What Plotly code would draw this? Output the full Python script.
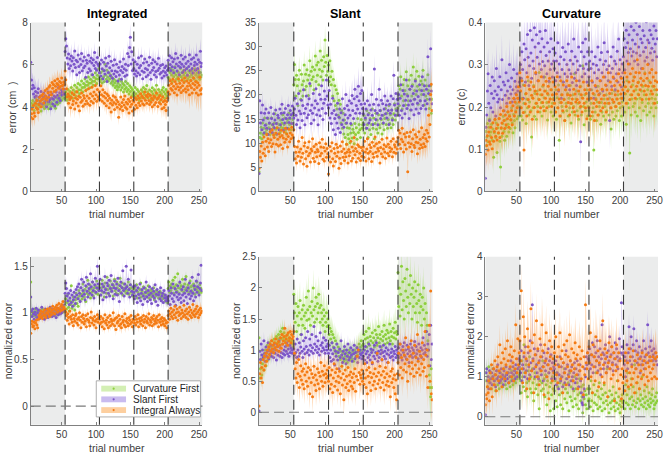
import plotly.graph_objects as go

# ---------------- data (5 blocks of 50 trials, trials 5..254) -------------
block_starts = [5, 55, 105, 155, 205]

# Integrated error, cm x100
int_cf = [
[392,418,403,431,412,384,421,442,405,413,394,432,411,402,423,381,414,436,402,419,393,411,432,404,421,413,392,431,414,401,422,443,412,405,432,411,394,421,441,413,432,452,421,443,461,432,452,473,441,462],
[441,472,453,432,483,461,442,474,451,492,463,442,481,462,503,472,451,493,471,512,482,463,504,481,523,492,471,512,494,534,503,482,521,503,542,513,491,532,514,553,522,503,541,522,562,534,512,551,533,582],
[542,521,563,532,514,572,543,521,603,552,531,574,542,523,561,534,552,513,541,522,503,532,514,492,523,501,482,513,494,532,503,481,522,493,512,471,503,484,521,492,473,512,483,462,501,473,492,452,483,463],
[472,451,492,463,442,483,452,474,431,462,443,482,451,472,493,461,442,484,453,502,471,443,462,481,452,432,473,491,462,441,482,453,472,503,461,442,483,452,471,432,463,481,452,493,472,441,462,483,452,471],
[541,572,532,563,583,552,521,574,543,562,591,553,532,571,542,563,524,551,582,543,562,534,572,551,523,562,541,583,552,532,571,543,562,524,552,573,541,562,533,581,552,523,561,542,573,551,532,563,542,552]]
int_sf = [
[612,528,487,503,462,491,448,473,452,431,468,487,446,418,452,473,435,414,447,466,421,453,432,401,444,472,425,457,436,392,441,463,414,438,452,405,447,471,423,456,493,442,468,431,482,457,471,503,462,484],
[663,724,689,632,604,651,583,627,596,642,618,571,634,603,665,587,622,553,614,646,592,564,627,601,653,572,618,586,637,594,541,622,607,563,645,581,617,572,632,608,553,624,597,658,583,612,574,635,603,596],
[562,604,547,623,581,534,612,573,556,632,594,521,607,563,641,586,548,617,572,536,598,557,624,571,545,603,566,523,587,552,614,573,531,592,564,627,581,546,603,574,552,653,597,638,682,731,604,662,573,624],
[583,556,614,572,547,603,562,634,586,553,597,642,571,534,608,565,627,582,544,613,576,552,598,636,563,531,607,574,624,587,553,615,568,542,604,573,631,584,556,597,563,538,602,571,547,586,563,594,552,574],
[621,584,643,602,573,634,591,615,562,627,586,653,604,571,632,594,553,612,587,645,603,564,628,592,574,637,606,583,551,617,592,648,573,604,626,582,561,634,597,612,574,647,603,582,624,563,612,664,592,607]]
int_ia = [
[352,368,391,344,407,372,356,418,396,431,389,374,412,446,428,401,455,437,462,419,441,478,452,433,487,468,446,495,502,471,458,516,489,507,473,524,498,481,512,533,506,489,521,497,515,538,502,486,519,508],
[571,529,486,447,462,418,451,436,397,445,468,412,429,458,391,443,419,472,437,405,451,382,446,423,467,431,404,455,441,413,478,429,452,417,486,441,408,463,427,494,452,419,471,438,502,458,427,483,449,437],
[472,436,501,458,427,482,451,418,469,443,406,462,431,453,397,441,418,376,432,409,453,421,388,446,414,433,399,425,352,412,391,447,402,421,384,436,409,452,398,423,391,414,437,372,426,401,445,413,381,432],
[424,389,443,408,436,397,452,419,441,407,463,428,451,416,443,409,471,432,455,418,447,462,431,412,456,423,441,401,433,452,411,446,422,467,437,403,445,421,454,414,436,392,447,425,398,431,412,384,426,441],
[472,503,461,524,488,512,479,531,498,468,521,487,509,457,496,534,481,513,492,469,527,501,478,516,538,487,471,523,498,482,514,458,502,526,491,467,512,537,483,504,521,466,492,515,457,503,541,479,462,488]]
int_cf_e = [30,28,22,22,24, 28,30,30,32,30, 30,32,30,28,30, 24,28,28,24,28, 30,30,30,32,32]
int_sf_e = [60,50,42,40,42, 58,52,50,52,50, 50,52,50,54,62, 50,48,50,52,50, 50,52,50,54,60]
int_ia_e = [48,46,44,46,48, 50,46,40,46,48, 42,46,40,42,46, 40,42,40,42,48, 50,52,60,68,80]

# Slant error, deg x10
sl_cf = [
[41,112,121,133,109,142,118,131,152,122,139,128,119,151,132,141,118,129,153,138,121,133,142,161,129,118,141,152,131,139,122,148,133,142,159,131,139,152,128,121,143,149,131,162,139,151,128,142,158,149],
[221,263,232,198,241,219,178,232,251,208,191,243,221,198,229,262,211,243,218,252,231,199,241,271,219,249,232,258,238,211,252,281,228,262,241,268,221,253,291,238,272,249,231,279,259,314,268,241,282,249],
[262,228,271,238,221,249,198,232,188,219,178,211,171,203,158,189,152,181,142,168,131,162,119,148,112,141,98,132,118,109,131,101,121,138,111,129,122,99,141,118,132,108,151,122,139,128,112,149,131,138],
[142,158,121,149,131,168,139,112,162,128,151,118,139,171,131,152,109,141,162,129,148,121,159,138,132,168,149,119,141,158,128,151,172,139,162,131,149,178,141,159,132,169,151,139,161,182,148,171,158,172],
[191,219,178,212,238,198,171,221,188,232,209,179,248,201,219,188,231,212,169,241,198,221,258,191,209,232,201,249,218,181,239,211,188,229,201,222,251,209,179,231,198,219,191,242,209,172,201,219,162,191]]
sl_sf = [
[37,188,142,163,128,179,148,121,162,137,171,131,152,118,163,142,129,174,151,122,139,161,132,148,169,141,119,158,153,128,171,138,162,181,149,127,163,142,172,151,131,159,178,143,152,168,159,141,177,162],
[152,171,193,158,139,182,148,203,167,132,161,189,147,178,211,162,138,172,198,153,181,159,192,224,168,141,179,162,203,148,173,188,213,159,182,138,169,201,157,191,219,172,149,183,208,191,162,231,198,179],
[173,209,152,181,141,162,193,128,168,151,118,159,142,183,131,154,171,122,163,139,192,148,133,172,159,201,142,178,152,169,188,158,141,183,199,168,151,192,212,162,178,197,171,218,188,162,203,181,209,172],
[161,139,182,152,171,131,188,159,142,179,148,169,201,158,139,181,254,168,149,191,162,138,179,212,168,151,189,158,182,142,171,198,161,179,152,188,168,139,181,162,198,169,148,192,241,179,158,203,168,191],
[182,201,158,193,221,168,152,209,178,202,161,189,231,172,198,179,151,212,188,169,218,181,203,159,191,229,171,208,183,197,162,221,188,172,209,238,178,201,219,188,171,212,182,279,203,219,191,296,208,182]]
sl_ia = [
[48,83,71,94,63,102,79,113,88,74,104,118,92,109,83,101,124,107,93,128,99,117,112,82,121,98,132,108,94,119,113,97,127,116,89,111,123,102,131,108,119,92,114,129,103,121,109,133,117,112],
[128,93,68,81,59,92,73,104,82,63,88,71,112,79,57,94,101,68,83,52,91,74,103,79,61,88,84,109,69,93,62,81,98,72,87,83,58,101,74,92,79,108,67,91,63,84,99,71,89,78],
[36,72,93,61,84,101,68,53,89,79,62,98,73,91,82,48,69,94,58,83,103,71,88,64,79,72,98,82,59,87,74,81,104,63,92,69,84,112,76,89,61,83,97,69,93,79,64,91,73,85],
[92,71,104,82,63,88,109,79,68,97,83,91,62,102,78,71,94,113,81,99,73,89,84,102,59,91,78,108,72,88,97,82,69,93,111,79,98,74,91,83,104,88,72,109,81,97,92,79,103,88],
[112,127,98,121,89,108,131,103,82,119,97,113,88,122,41,101,114,92,123,99,83,109,128,96,91,118,102,113,78,101,124,89,108,97,132,91,112,99,118,93,109,127,104,121,158,113,139,201,222,168]]
sl_cf_e = [20,18,18,20,22, 30,30,32,32,30, 30,28,26,24,20, 20,20,22,22,22, 28,30,30,30,32]
sl_sf_e = [30,22,20,20,22, 28,28,30,30,32, 30,30,30,32,40, 30,30,28,30,30, 30,32,32,34,40]
sl_ia_e = [18,18,18,18,18, 18,18,18,18,18, 18,18,18,18,18, 18,18,18,18,18, 20,20,22,28,36]

# Curvature error, c x1000
cu_cf = [
[108,142,129,161,118,152,171,132,141,159,121,148,81,139,169,128,162,92,151,138,172,119,58,149,131,161,178,142,121,169,152,131,188,159,141,181,149,171,198,162,139,182,168,151,191,209,172,201,178,221],
[201,238,179,221,169,252,209,188,231,161,219,198,262,181,212,241,191,129,222,198,251,178,232,209,171,238,201,219,282,188,229,211,179,249,201,222,271,191,238,211,169,229,201,259,219,188,241,209,179,221],
[209,188,241,171,222,198,252,121,211,179,229,201,259,188,219,168,241,209,191,232,179,221,198,251,162,209,188,229,201,279,181,219,238,191,209,171,231,198,249,181,222,298,201,158,229,191,212,241,179,201],
[191,219,171,209,241,179,198,98,229,188,221,168,212,249,181,201,232,159,211,188,241,179,219,201,169,229,191,209,262,181,221,198,148,232,188,211,171,238,201,179,219,191,229,209,168,198,221,179,212,201],
[221,248,188,231,159,262,209,241,198,91,229,181,219,252,201,271,209,188,241,219,179,231,259,198,221,168,238,211,249,191,229,281,201,219,181,241,209,262,188,231,198,221,249,209,179,241,219,198,229,211]]
cu_sf = [
[31,152,181,238,279,209,168,251,198,232,271,188,221,262,238,179,291,229,212,248,219,272,198,241,312,218,259,191,252,228,281,209,238,262,221,301,248,231,269,212,241,289,219,261,232,248,279,238,221,259],
[248,301,268,331,289,221,349,312,259,338,281,372,318,251,298,381,328,268,359,309,291,388,342,279,371,318,262,351,302,379,331,289,362,308,271,342,298,381,322,279,352,309,261,331,289,362,302,271,338,309],
[291,328,262,309,281,352,238,302,271,319,221,289,341,259,312,279,331,248,301,272,349,288,241,311,279,332,258,302,361,268,319,281,251,309,288,342,262,298,118,331,272,352,291,319,279,361,302,259,331,289],
[272,309,241,291,331,259,302,221,281,319,248,299,268,342,288,231,312,262,329,281,238,301,352,271,309,251,289,331,262,298,168,281,319,249,291,342,268,309,241,302,279,332,259,361,289,312,271,248,302,281],
[319,362,288,341,382,309,352,329,371,302,338,391,321,359,331,382,309,349,401,328,372,301,342,391,322,361,291,352,381,331,369,309,341,402,318,359,302,352,382,328,371,339,311,362,392,331,349,381,319,362]]
cu_ia = [
[88,121,109,132,98,141,118,112,152,128,101,163,119,142,171,131,149,122,158,139,173,128,182,151,162,138,191,168,149,181,158,201,172,189,152,178,211,169,192,158,203,221,179,212,188,229,198,221,248,212],
[281,238,198,262,219,187,98,251,208,232,179,271,218,201,242,188,259,228,171,221,248,199,238,282,209,231,189,262,218,241,198,272,229,211,252,191,238,221,261,198,232,249,212,268,219,241,201,229,259,218],
[209,248,188,231,272,198,241,219,179,262,211,229,191,252,218,168,241,201,262,229,211,251,181,228,209,271,219,198,242,189,231,212,262,218,179,238,211,248,201,229,188,221,259,209,241,198,232,172,219,251],
[198,241,179,221,262,188,232,209,168,251,218,201,238,181,229,211,262,191,219,242,198,271,228,209,252,188,241,219,281,209,232,259,198,241,218,271,212,251,229,201,262,219,238,279,209,252,231,268,221,241],
[259,232,281,248,209,271,238,302,259,218,279,248,229,291,262,238,271,221,282,249,312,258,229,281,241,268,252,218,291,262,238,279,251,229,268,301,249,219,281,258,238,289,231,271,249,209,262,281,241,259]]
cu_cf_e = [40,40,42,42,44, 50,50,50,50,50, 50,50,50,50,50, 48,48,48,48,48, 55,55,55,55,55]
cu_sf_e = [60,60,60,62,62, 80,80,80,80,80, 78,78,78,78,78, 70,70,70,70,70, 80,80,80,80,80]
cu_ia_e = [50,50,52,52,55, 70,70,70,70,70, 62,62,62,62,62, 62,62,62,62,62, 70,70,70,70,70]

# Normalized integrated error x100
ni_cf = [
[133,103,98,101,97,100,104,96,99,102,95,101,98,103,100,96,99,104,97,101,99,95,102,98,100,97,103,99,96,101,104,98,100,102,97,101,99,103,100,98,102,101,99,104,100,103,105,101,104,102],
[108,115,104,111,120,106,102,113,109,129,105,112,117,108,103,114,121,110,116,107,124,118,113,127,120,115,131,122,117,125,112,128,121,135,119,124,130,116,126,122,133,118,127,123,129,121,134,126,120,128],
[124,131,119,127,135,122,129,117,132,126,121,138,125,130,119,128,134,123,126,131,118,129,136,124,121,133,127,120,130,125,137,122,128,132,119,126,131,123,127,121,129,124,133,120,126,130,122,127,118,125],
[121,127,118,124,130,116,122,126,119,125,132,117,123,120,128,115,121,126,118,124,121,129,116,122,119,125,117,123,120,127,114,121,118,124,119,122,116,120,123,117,121,118,115,120,117,119,113,116,112,111],
[126,133,122,129,124,131,127,135,121,128,138,125,130,123,142,127,121,132,126,129,124,136,128,122,131,125,139,127,123,130,126,121,134,128,124,129,122,131,127,120,128,125,133,123,127,121,130,124,126,122]]
ni_sf = [
[117,102,96,104,99,93,101,98,105,95,100,103,97,94,102,99,106,96,101,98,93,104,100,97,103,95,99,102,106,98,101,96,104,100,97,103,99,95,102,105,98,101,104,99,103,100,106,102,108,104],
[121,132,126,118,113,121,109,116,124,111,119,107,114,122,117,110,125,119,128,115,131,121,112,127,136,118,124,133,120,114,129,138,123,117,131,126,121,142,128,119,133,124,116,130,137,122,127,150,131,124],
[127,136,119,124,131,114,128,122,139,125,117,132,129,121,135,118,126,140,123,130,115,127,134,120,126,131,119,137,124,112,129,133,121,127,145,124,118,131,126,150,128,121,136,125,117,130,146,123,119,128],
[122,115,129,118,124,111,127,120,116,131,113,121,125,109,118,127,115,122,133,117,112,124,119,128,114,121,110,126,118,123,116,130,112,120,125,108,119,122,115,127,113,118,121,111,124,116,119,113,117,115],
[113,124,118,109,127,121,115,131,112,119,126,108,122,117,129,114,120,133,116,111,125,119,128,113,121,136,117,124,110,127,120,132,115,123,118,138,121,113,129,125,117,134,122,128,141,119,126,132,151,124]]
ni_ia = [
[78,88,91,85,86,90,83,89,92,87,84,93,97,95,99,102,96,94,101,98,103,97,95,100,104,99,102,96,105,101,98,103,107,100,104,99,106,103,108,101,105,110,104,102,107,109,103,112,106,104],
[104,101,97,92,99,95,88,102,96,93,90,98,86,94,91,97,99,89,93,87,95,100,92,84,96,90,98,94,88,91,97,85,93,99,92,90,86,95,101,89,94,92,87,96,91,84,93,98,90,95],
[93,88,96,90,85,94,91,83,98,89,92,87,95,84,90,97,86,93,91,88,100,92,86,94,82,95,89,91,97,86,93,88,84,96,90,92,87,99,85,91,94,89,86,95,92,88,97,90,85,93],
[92,89,96,87,93,90,98,85,94,91,88,95,92,86,97,90,93,84,96,91,89,94,99,87,92,90,95,86,93,97,88,91,94,89,96,92,85,98,90,93,87,95,91,88,94,86,92,89,84,90],
[97,102,93,99,105,96,101,94,103,98,107,95,100,104,92,101,97,106,99,94,103,100,96,108,98,102,95,104,99,93,101,106,97,103,95,100,109,98,102,96,104,99,107,101,95,103,98,105,100,102]]
ni_cf_e = [5,4,4,4,4, 5,6,6,6,6, 6,6,6,6,6, 5,5,5,5,5, 6,6,6,6,6]
ni_sf_e = [6,5,5,5,5, 8,8,9,9,10, 10,9,9,9,9, 8,8,8,8,8, 8,8,8,9,10]
ni_ia_e = [5,5,5,5,5, 6,6,6,6,6, 6,6,7,7,6, 6,6,6,6,6, 6,6,6,6,7]

# Normalized slant error x100
ns_cf = [
[120,55,70,85,60,78,92,68,88,100,75,95,108,85,102,112,90,105,98,115,108,100,118,105,112,122,110,118,125,112,120,130,118,125,135,120,128,115,122,118,110,125,115,120,108,118,112,115,110,105],
[190,160,145,175,130,155,170,140,160,180,125,150,165,140,172,155,135,160,185,148,165,195,150,170,140,160,178,155,200,165,145,170,185,150,175,160,190,168,145,172,160,150,140,165,155,130,145,160,138,150],
[140,125,135,118,130,112,125,105,120,100,115,95,110,98,105,90,100,85,98,92,88,95,82,100,90,85,96,80,92,88,100,84,95,90,86,98,82,94,100,88,96,105,92,100,110,98,105,115,100,108],
[110,125,100,118,130,105,120,112,135,108,122,115,100,128,112,120,105,132,115,125,108,120,138,112,125,118,105,130,115,122,140,110,125,118,132,112,128,120,142,115,130,122,110,135,120,128,145,118,130,125],
[225,170,200,155,190,235,165,210,180,150,215,195,170,230,185,160,205,175,220,190,150,200,170,185,210,160,195,175,145,205,180,160,190,170,140,185,165,200,150,175,130,160,140,115,100,60,40,25,70,40]]
ns_sf = [
[2,98,85,110,92,100,88,115,95,82,105,90,98,112,86,100,94,108,90,96,102,88,110,95,100,84,106,92,98,115,90,104,96,88,110,94,100,92,106,98,112,94,102,90,108,96,104,100,95,100],
[102,92,110,96,88,118,100,90,112,95,105,125,98,88,115,102,94,120,106,96,130,100,92,118,108,98,125,104,95,138,110,100,122,106,96,115,102,92,128,108,98,112,104,120,100,95,116,106,100,110],
[95,108,88,100,82,112,94,85,104,76,98,90,110,84,96,70,102,88,115,92,80,98,86,106,94,78,100,90,110,84,96,88,104,92,82,100,94,108,86,96,90,104,80,98,88,100,94,92,86,96],
[90,100,84,106,94,80,98,88,110,92,84,102,96,78,100,90,108,86,96,112,92,82,98,88,106,94,100,84,96,108,90,98,86,104,94,80,100,92,110,88,96,102,90,84,98,94,106,88,100,92],
[96,104,88,110,92,100,84,106,96,112,90,100,86,108,94,102,80,98,110,92,104,88,100,96,114,90,106,94,100,86,110,98,92,104,88,100,120,94,108,96,102,130,90,110,100,125,75,140,85,110]]
ns_ia = [
[10,62,80,55,72,48,85,68,90,75,95,82,100,88,105,93,110,98,115,102,108,96,112,104,118,100,110,106,114,98,108,120,103,125,110,115,122,135,112,118,124,108,128,115,120,130,112,125,118,122],
[130,95,70,55,80,48,62,85,40,58,75,52,66,45,70,38,60,78,50,65,42,72,55,30,68,48,62,25,56,74,44,60,35,52,70,46,64,38,58,80,50,66,42,60,75,48,62,55,68,58],
[50,72,38,60,45,68,32,55,78,42,64,50,70,36,58,48,66,30,55,74,44,62,20,52,68,40,58,46,72,35,60,50,65,42,56,38,62,48,70,34,58,90,52,100,64,45,60,55,68,50],
[62,45,78,55,40,68,30,58,72,48,64,35,56,80,44,62,50,70,38,58,95,46,64,52,74,40,60,85,48,66,36,56,72,44,62,50,80,42,58,25,66,48,70,54,40,60,30,52,20,62],
[80,95,60,110,72,88,55,100,68,92,78,120,65,85,50,105,74,90,62,115,80,70,95,58,108,76,88,64,125,82,70,98,60,90,78,112,66,85,72,130,92,58,100,40,75,140,50,195,30,20]]
ns_cf_e = [20,15,15,15,15, 30,30,30,30,30, 25,25,20,20,20, 25,25,25,25,25, 35,35,35,35,40]
ns_sf_e = [15,12,12,12,12, 15,15,15,15,15, 15,15,15,15,15, 15,15,15,15,15, 18,18,18,18,20]
ns_ia_e = [15,15,15,15,15, 25,25,25,25,25, 25,25,25,25,25, 25,25,25,25,25, 30,30,30,30,35]

# Normalized curvature error x100
nc_cf = [
[110,90,120,75,100,125,85,95,110,70,100,120,80,90,105,65,95,115,80,100,70,90,110,85,95,75,100,120,90,80,105,70,95,110,85,100,75,90,115,95,80,105,90,100,85,110,95,120,100,105],
[120,90,60,140,100,75,180,110,65,130,85,50,115,90,150,70,100,60,120,85,40,95,110,70,130,80,55,100,20,90,115,65,85,140,70,95,50,105,80,30,90,60,110,75,15,85,55,100,70,20],
[65,90,40,110,25,75,130,55,85,30,100,60,20,80,120,45,70,95,35,60,85,15,110,50,75,40,90,25,65,100,45,70,30,85,55,20,95,60,40,75,50,10,80,45,65,30,55,20,70,40],
[45,70,25,90,40,60,15,80,35,55,110,30,65,20,50,85,25,45,70,15,55,35,80,20,60,40,120,30,50,10,65,35,20,55,40,75,25,45,15,60,35,90,20,50,30,10,40,25,55,35],
[40,65,20,80,35,55,110,30,70,45,20,95,50,30,75,40,130,25,60,35,85,45,20,70,40,55,30,100,45,25,65,35,50,20,75,40,30,60,25,45,35,55,70,40,20,30,50,35,60,40]]
nc_sf = [
[5,110,120,90,100,70,115,85,95,110,80,100,120,90,105,75,115,95,130,100,85,110,90,120,95,105,80,115,100,90,125,105,95,110,85,120,100,140,110,90,125,105,115,95,130,110,100,120,145,125],
[140,110,165,90,130,120,150,100,175,115,140,95,160,125,105,190,135,115,280,145,120,170,100,155,130,110,165,95,140,120,180,105,150,125,90,160,135,115,145,100,130,170,110,140,120,155,95,135,115,125],
[120,95,140,80,110,130,70,105,150,90,125,100,75,135,110,85,120,165,95,130,105,80,115,140,90,125,100,70,110,135,85,120,95,140,105,75,115,130,90,60,35,30,50,70,120,100,150,130,160,145],
[140,170,120,155,130,185,110,150,175,125,160,140,190,115,150,130,170,105,145,230,160,120,155,135,180,110,150,125,165,140,200,120,155,175,135,115,160,145,185,130,170,150,120,140,195,145,160,285,175,155],
[160,130,150,100,140,180,120,160,225,140,170,200,130,150,180,220,140,165,120,190,135,160,145,175,110,150,130,165,140,190,120,150,170,135,155,230,160,140,175,150,190,165,140,155,170,145,160,140,150,130]]
nc_ia = [
[30,55,45,75,60,90,40,110,70,130,50,95,120,80,140,105,65,125,150,90,115,180,100,135,75,160,120,145,95,170,130,110,190,140,85,155,125,175,100,150,135,90,165,120,230,145,110,195,130,160],
[190,140,315,120,85,250,160,200,110,145,70,220,175,130,95,165,270,115,185,140,60,205,155,125,240,100,170,135,80,195,150,115,230,165,125,55,180,140,210,100,160,130,45,190,150,120,175,90,145,110],
[160,130,200,105,150,85,175,125,210,95,145,165,60,135,180,110,155,80,190,125,150,100,205,140,115,170,130,90,160,120,185,145,105,155,70,130,175,115,145,95,165,125,55,150,105,280,135,120,160,95],
[175,135,210,100,155,60,180,125,150,90,200,140,110,165,75,135,190,120,155,100,240,130,85,170,145,110,160,50,135,185,120,150,95,175,130,105,160,40,145,115,180,125,90,160,70,140,105,45,120,85],
[100,140,65,160,115,90,135,75,170,110,150,80,125,95,165,110,60,140,120,85,155,100,130,70,145,115,95,160,130,105,140,80,120,155,100,135,90,125,150,110,140,95,120,150,130,100,145,160,95,150]]
nc_cf_e = [25,25,25,25,25, 40,40,40,40,40, 35,35,35,35,35, 30,30,30,30,30, 30,30,30,30,30]
nc_sf_e = [25,25,25,25,25, 35,35,35,35,35, 30,30,30,30,30, 35,35,35,35,35, 35,35,35,35,35]
nc_ia_e = [40,45,50,50,55, 70,70,70,70,70, 65,65,65,65,65, 70,70,70,70,70, 60,60,60,60,60]

series_names = ["Curvature First", "Slant First", "Integral Always"]
titles = ["Integrated", "Slant", "Curvature"]
ylabels = ["error (cm  )", "error (deg)", "error (c)", "normalized error", "normalized error", "normalized error"]
block_edges = [55, 105, 155, 205]
x_ticks = [50, 100, 150, 200, 250]

# ---------------- styling -------------
W, H = 668, 460
FONT = "Liberation Sans, Arial, Helvetica, sans-serif"
mark_cols = ["#8ccf3c", "#7b55c9", "#f47b14"]
band_cols = ["rgba(165,222,100,0.38)", "rgba(145,115,220,0.33)", "rgba(255,150,55,0.40)"]
legend_patch = ["#d3efb4", "#c9bbef", "#fdcf9f"]

panels = [
    dict(data=[(int_cf, int_cf_e), (int_sf, int_sf_e), (int_ia, int_ia_e)], scale=100.0, yr=[0, 8], dt=2),
    dict(data=[(sl_cf, sl_cf_e), (sl_sf, sl_sf_e), (sl_ia, sl_ia_e)], scale=10.0, yr=[0, 35], dt=5),
    dict(data=[(cu_cf, cu_cf_e), (cu_sf, cu_sf_e), (cu_ia, cu_ia_e)], scale=1000.0, yr=[0, 0.4], dt=0.1),
    dict(data=[(ni_cf, ni_cf_e), (ni_sf, ni_sf_e), (ni_ia, ni_ia_e)], scale=100.0, yr=[-0.2, 1.6], dt=0.5),
    dict(data=[(ns_cf, ns_cf_e), (ns_sf, ns_sf_e), (ns_ia, ns_ia_e)], scale=100.0, yr=[-0.2, 2.5], dt=0.5),
    dict(data=[(nc_cf, nc_cf_e), (nc_sf, nc_sf_e), (nc_ia, nc_ia_e)], scale=100.0, yr=[-0.2, 4], dt=1),
]

col_px = [(31, 204), (261, 436), (489, 663)]
row_px = [(17, 190), (257, 429)]

def px_x(x):
    return x / W

def px_y(y):
    return 1 - y / H

fig = go.Figure()
layout = dict(width=W, height=H, margin=dict(l=0, r=0, t=0, b=0),
              paper_bgcolor="white", plot_bgcolor="white", showlegend=False,
              font=dict(family=FONT, size=10, color="#404040"))
shapes, annots = [], []

for p, panel in enumerate(panels):
    r, c = divmod(p, 3)
    idx = "" if p == 0 else str(p + 1)
    xa, ya = "x" + idx, "y" + idx
    x0p, x1p = col_px[c]
    y0p, y1p = row_px[r]
    tickvals = []
    v = 0.0
    lo, hi = panel["yr"]
    while v <= hi + 1e-9:
        tickvals.append(round(v, 4))
        v += panel["dt"]
    layout["xaxis" + idx] = dict(domain=[px_x(x0p), px_x(x1p)], anchor=ya, range=[5, 255],
                                 tickvals=x_ticks, ticks="inside", ticklen=3, tickcolor="#808080",
                                 showline=True, linecolor="#808080", linewidth=0.8,
                                 showgrid=False, zeroline=False,
                                 tickfont=dict(size=10, color="#404040"))
    layout["yaxis" + idx] = dict(domain=[px_y(y1p), px_y(y0p)], anchor=xa, range=panel["yr"],
                                 tickvals=tickvals, ticks="inside", ticklen=3, tickcolor="#808080",
                                 showline=True, linecolor="#808080", linewidth=0.8,
                                 showgrid=False, zeroline=False,
                                 tickfont=dict(size=10, color="#404040"))
    for a, b in [(5, 55), (205, 255)]:
        shapes.append(dict(type="rect", xref=xa, yref=ya + " domain", x0=a, x1=b, y0=0, y1=1,
                           fillcolor="#ebecec", line=dict(width=0), layer="below"))
    for s, (blocks, err) in enumerate(panel["data"]):
        xs, ys, es = [], [], []
        for bstart, vals in zip(block_starts, blocks):
            for i, val in enumerate(vals):
                t = bstart + i
                xs.append(t)
                ys.append(val / panel["scale"])
                es.append(err[min((t - 5) // 10, len(err) - 1)] / panel["scale"])
        up = [y + e for y, e in zip(ys, es)]
        dn = [y - e for y, e in zip(ys, es)]
        fig.add_trace(go.Scatter(x=xs + xs[::-1], y=up + dn[::-1], fill="toself",
                                 fillcolor=band_cols[s], line=dict(width=0), mode="lines",
                                 hoverinfo="skip", xaxis=xa, yaxis=ya, name=series_names[s]))
        fig.add_trace(go.Scatter(x=xs, y=ys, mode="markers",
                                 marker=dict(size=3, color=mark_cols[s], line=dict(width=0)),
                                 xaxis=xa, yaxis=ya, name=series_names[s]))
    for e in block_edges:
        shapes.append(dict(type="line", xref=xa, yref=ya + " domain", x0=e, x1=e, y0=0, y1=1,
                           line=dict(color="#3c3c3c", width=1.1, dash="10px,5px"), layer="above"))
    if r == 1:
        shapes.append(dict(type="line", xref=xa + " domain", yref=ya, x0=0, x1=1, y0=0, y1=0,
                           line=dict(color="#7a7a7a", width=1.1, dash="10px,5px"), layer="above"))
    cx = px_x((x0p + x1p) / 2)
    if r == 0:
        annots.append(dict(text="<b>%s</b>" % titles[c], x=cx, y=px_y(8), xref="paper", yref="paper",
                           xanchor="center", yanchor="middle", showarrow=False,
                           font=dict(size=12.5, color="#000000", family=FONT)))
    annots.append(dict(text="trial number", x=cx, y=px_y(213 if r == 0 else 453), xref="paper",
                       yref="paper", xanchor="center", yanchor="middle", showarrow=False,
                       font=dict(size=10.5, color="#404040", family=FONT)))
    ylx = [[12.5, 238, 465], [7.5, 238, 473]][r][c]
    annots.append(dict(text=ylabels[p], x=px_x(ylx), y=px_y((y0p + y1p) / 2), xref="paper", yref="paper",
                       xanchor="center", yanchor="middle", textangle=-90, showarrow=False,
                       font=dict(size=10.5, color="#404040", family=FONT)))

# manual legend in the lower-left panel
shapes.append(dict(type="rect", xref="paper", yref="paper", x0=px_x(97), x1=px_x(202),
                   y0=px_y(421), y1=px_y(384), fillcolor="white", line=dict(color="#9a9a9a", width=0.8),
                   layer="above"))
for s, yy in enumerate([392, 403, 414]):
    shapes.append(dict(type="rect", xref="paper", yref="paper", x0=px_x(102), x1=px_x(127),
                       y0=px_y(yy + 3), y1=px_y(yy - 3), fillcolor=legend_patch[s], line=dict(width=0),
                       layer="above"))
    shapes.append(dict(type="circle", xref="paper", yref="paper", x0=px_x(113.4), x1=px_x(115.6),
                       y0=px_y(yy + 1.1), y1=px_y(yy - 1.1), fillcolor=mark_cols[s], line=dict(width=0),
                       layer="above"))
    annots.append(dict(text=series_names[s], x=px_x(132), y=px_y(yy), xref="paper", yref="paper",
                       xanchor="left", yanchor="middle", showarrow=False,
                       font=dict(size=10, color="#262626", family=FONT)))

layout["shapes"] = shapes
layout["annotations"] = annots
fig.update_layout(**layout)
fig.write_html("out.html", config={"displayModeBar": False},
               post_script="document.body.style.margin='0';document.body.style.overflow='hidden';")
